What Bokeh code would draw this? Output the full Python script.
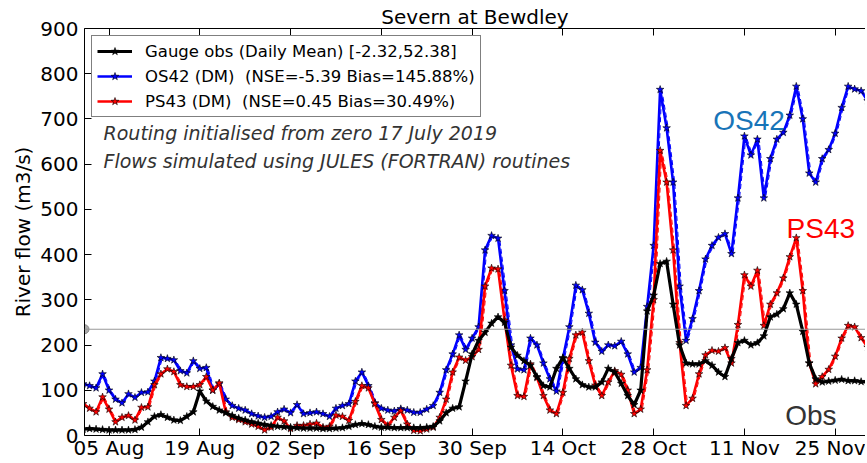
import pandas as pd
from bokeh.plotting import figure
from bokeh.models import (Range1d, FixedTicker, DatetimeTickFormatter, DatetimeAxis,
                          Span, Label, Legend, LegendItem, ColumnDataSource)
from bokeh.embed import file_html
from bokeh.resources import INLINE

# ---------------- data ----------------
start_date = "2019-08-01"
obs = [14, 15, 14, 13, 12, 12, 12, 12, 13, 18,
       30, 42, 46, 40, 34, 33, 42, 52, 98, 76,
       64, 56, 50, 44, 38, 34, 30, 27, 24, 22,
       20, 19, 18, 17, 16, 16, 16, 15, 15, 16,
       17, 20, 24, 26, 24, 20, 18, 18, 17, 17,
       17, 17, 17, 18, 20, 32, 50, 60, 63, 120,
       180, 210, 228, 248, 262, 250, 195, 177, 165, 155,
       130, 110, 107, 148, 172, 148, 125, 112, 107, 107,
       118, 148, 140, 115, 88, 68, 100, 275, 310, 380,
       385, 290, 200, 160, 158, 158, 165, 155, 140, 130,
       170, 205, 210, 200, 205, 220, 262, 268, 280, 315,
       290, 230, 160, 125, 118, 120, 122, 124, 121, 121, 119, 118]
os42 = [114, 110, 105, 136, 100, 80, 72, 92, 84, 95,
        96, 120, 172, 170, 167, 143, 138, 165, 148, 150,
        100, 114, 80, 66, 60, 56, 48, 43, 40, 42,
        52, 58, 50, 68, 48, 50, 52, 48, 42, 60,
        66, 70, 120, 140, 110, 72, 60, 56, 54, 59,
        56, 51, 51, 58, 66, 95, 145, 180, 222, 190,
        215, 240, 410, 442, 436, 320, 200, 147, 145, 215,
        200, 160, 125, 98, 170, 240, 332, 322, 270, 206,
        186, 200, 198, 208, 180, 140, 150, 285, 420, 765,
        680, 560, 330, 210, 258, 320, 390, 420, 438, 446,
        402, 525, 662, 620, 655, 525, 612, 655, 670, 708,
        772, 700, 580, 560, 612, 632, 668, 725, 772, 766, 762, 740]
ps43 = [70, 60, 52, 85, 58, 30, 40, 44, 34, 62,
        63, 112, 136, 147, 141, 112, 108, 108, 112, 130,
        100, 116, 52, 40, 35, 30, 25, 20, 12, 18,
        40, 32, 15, 22, 22, 25, 27, 18, 20, 45,
        42, 33, 75, 110, 105, 70, 35, 22, 40, 55,
        25, 11, 10, 14, 18, 40, 80, 140, 173, 166,
        174, 190, 330, 370, 368, 255, 155, 88, 86, 158,
        128, 88, 56, 48, 95, 170, 222, 228, 165, 111,
        88, 118, 143, 135, 100, 48, 58, 145, 300, 630,
        560, 410, 205, 66, 82, 136, 178, 188, 186, 194,
        160, 245, 355, 330, 365, 243, 290, 315, 348, 395,
        437, 320, 160, 114, 130, 146, 175, 215, 243, 240, 216, 195]
tick_dates = ["2019-08-05", "2019-08-19", "2019-09-02", "2019-09-16", "2019-09-30",
              "2019-10-14", "2019-10-28", "2019-11-11", "2019-11-25"]
y_ticks = [0, 100, 200, 300, 400, 500, 600, 700, 800, 900]
threshold = 235
title_text = "Severn at Bewdley"
legend_labels = ["Gauge obs (Daily Mean) [-2.32,52.38]",
                 "OS42 (DM) \u00a0(NSE=-5.39 Bias=145.88%)",
                 "PS43 (DM) \u00a0(NSE=0.45 Bias=30.49%)"]
notes = ["Routing initialised from zero 17 July 2019",
         "Flows simulated using JULES (FORTRAN) routines"]

# ---------------- helpers ----------------
FONT = "DejaVu Sans"
DAY = 86400000.0
t0 = pd.Timestamp(start_date).timestamp() * 1000.0


def ms(d):
    return t0 + d * DAY


dates = pd.date_range(start_date, periods=len(obs), freq="D")
x_ms = [pd.Timestamp(d).timestamp() * 1000.0 for d in dates]
x_dash = [v + 0.25 * DAY for v in x_ms]

src = ColumnDataSource(dict(x=x_ms, xd=x_dash, obs=obs, os42=os42, ps43=ps43))

p = figure(frame_width=781, frame_height=407, output_backend="svg", toolbar_location=None,
           x_axis_type="datetime",
           x_range=Range1d(ms(0.216), ms(0.216 + 120.46)),
           y_range=Range1d(0, 900),
           min_border_left=0, min_border_right=0, min_border_top=28, min_border_bottom=0,
           margin=(0, 0, 0, 8))
p.outline_line_color = None
p.grid.visible = False
p.background_fill_color = "white"

p.title.text = title_text
p.title.align = "center"
p.title.offset = 3
p.title.standoff = 0
p.title.text_font = FONT
p.title.text_font_size = "20px"
p.title.text_font_style = "normal"
p.title.text_color = "black"

ticks_ms = [pd.Timestamp(d).timestamp() * 1000.0 for d in tick_dates]
fmt = DatetimeTickFormatter(days="%d %b", months="%d %b", hours="%d %b", years="%d %b")

xa = p.xaxis[0]
xa.ticker = FixedTicker(ticks=ticks_ms)
xa.formatter = fmt
ya = p.yaxis[0]
ya.ticker = FixedTicker(ticks=y_ticks)
ya.axis_label = "River flow (m3/s)"
for ax in (xa, ya):
    ax.major_label_text_font = FONT
    ax.major_label_text_font_size = "20px"
    ax.major_label_text_color = "black"
    ax.major_label_text_line_height = 1.0
    ax.major_tick_in = 7
    ax.major_tick_out = 0
    ax.minor_tick_in = 0
    ax.minor_tick_out = 0
    ax.axis_line_color = "black"
    ax.major_tick_line_color = "black"
ya.axis_label_text_font = FONT
ya.axis_label_text_font_size = "20px"
ya.axis_label_text_font_style = "normal"
ya.axis_label_text_color = "black"
ya.axis_label_standoff = 2
xa.major_label_standoff = 0
ya.major_label_standoff = 6

top = DatetimeAxis(ticker=FixedTicker(ticks=ticks_ms), formatter=fmt,
                   major_label_text_font_size="0px", major_label_text_color=None,
                   major_label_standoff=0,
                   major_tick_in=7, major_tick_out=0, minor_tick_in=0, minor_tick_out=0,
                   axis_line_color="black")
p.add_layout(top, "above")

# threshold line
p.add_layout(Span(location=threshold, dimension="width", line_color="#999999", line_width=1.2))
p.scatter(x=[ms(0.216)], y=[threshold], size=9, marker="circle",
          fill_color="#aaaaaa", line_color="#888888")

# dashed sub-daily-like traces
p.line("xd", "os42", source=src, line_color="blue", line_width=1.0, line_dash="5 3")
p.line("xd", "ps43", source=src, line_color="red", line_width=1.0, line_dash="5 3")

# main lines
l_os = p.line("x", "os42", source=src, line_color="blue", line_width=2.6)
s_os = p.scatter("x", "os42", source=src, marker="star", size=8,
                 fill_color="blue", line_color="black", line_width=0.6)
l_ps = p.line("x", "ps43", source=src, line_color="red", line_width=2.6)
s_ps = p.scatter("x", "ps43", source=src, marker="star", size=8,
                 fill_color="red", line_color="black", line_width=0.6)
l_ob = p.line("x", "obs", source=src, line_color="black", line_width=3.2)
s_ob = p.scatter("x", "obs", source=src, marker="star", size=8,
                 fill_color="black", line_color="black", line_width=0.6)

legend = Legend(items=[LegendItem(label=legend_labels[0], renderers=[l_ob, s_ob]),
                       LegendItem(label=legend_labels[1], renderers=[l_os, s_os]),
                       LegendItem(label=legend_labels[2], renderers=[l_ps, s_ps])],
                location="top_left", orientation="vertical",
                label_text_font=FONT, label_text_font_size="16.5px", label_text_color="black",
                glyph_width=35, glyph_height=20, label_height=20, label_standoff=13,
                spacing=5, padding=5, margin=7,
                border_line_color="black", border_line_width=1,
                background_fill_color="white", background_fill_alpha=1.0)
p.add_layout(legend, "center")

# notes
for txt, yv in zip(notes, [668, 608]):
    p.add_layout(Label(x=ms(3.15), y=yv, text=txt, text_font=FONT, text_font_size="19px",
                       text_font_style="italic", text_color="#333333", text_baseline="middle"))

p.add_layout(Label(x=ms(97.2), y=697, text="OS42", text_font="Liberation Sans",
                   text_font_size="28px", text_color="#1874b8", text_baseline="alphabetic"))
p.add_layout(Label(x=ms(108.5), y=457, text="PS43", text_font="Liberation Sans",
                   text_font_size="28px", text_color="#ff0000", text_baseline="alphabetic"))
p.add_layout(Label(x=ms(108.3), y=44, text="Obs", text_font="Liberation Sans",
                   text_font_size="28px", text_color="#333333", text_baseline="alphabetic"))

open("out.html", "w").write(file_html(p, INLINE))
